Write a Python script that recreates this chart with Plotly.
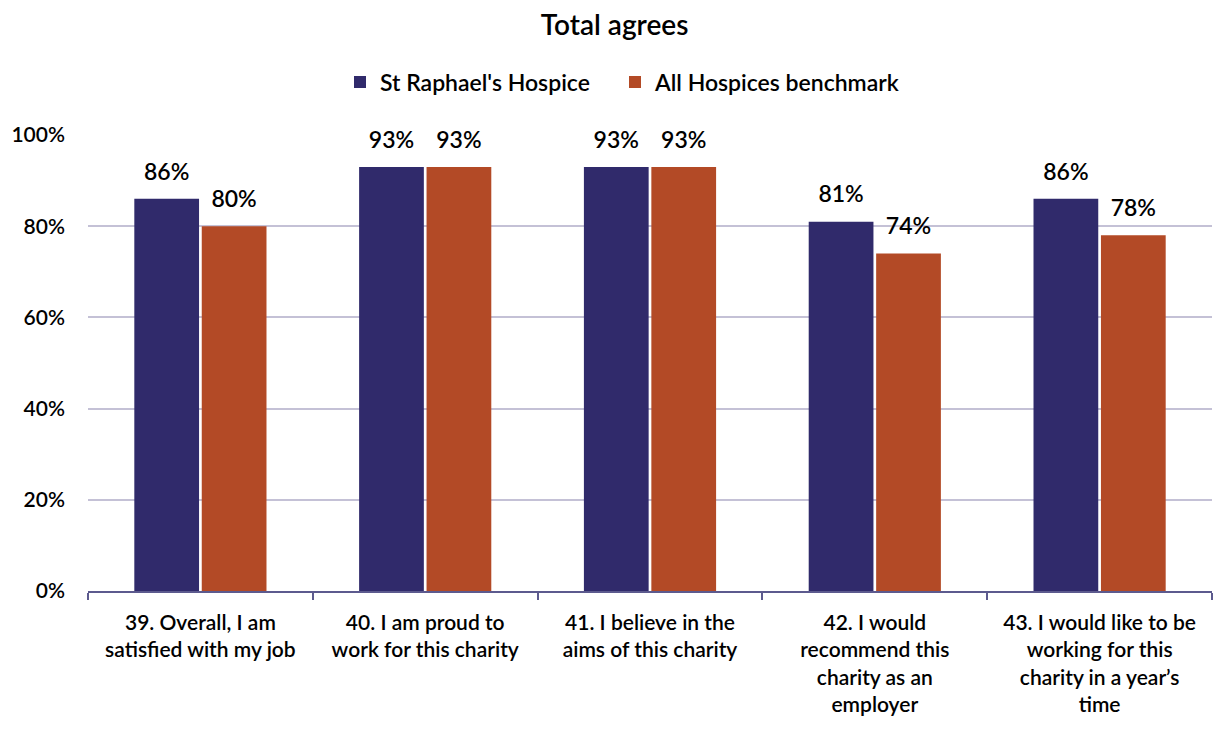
import plotly.graph_objects as go

categories = [
    "39. Overall, I am<br>satisfied with my job",
    "40. I am proud to<br>work for this charity",
    "41. I believe in the<br>aims of this charity",
    "42. I would<br>recommend this<br>charity as an<br>employer",
    "43. I would like to be<br>working for this<br>charity in a year’s<br>time",
]
st_raphael = [86, 93, 93, 81, 86]
benchmark = [80, 93, 93, 74, 78]
y_ticks = [0, 20, 40, 60, 80, 100]
y_tick_labels = ["0%", "20%", "40%", "60%", "80%", "100%"]

FONT = "Lato, 'Noto Sans', sans-serif"
NAVY = "#302a6b"
RUST = "#b34a26"

series = [
    ("St Raphael's Hospice", st_raphael, NAVY, "a", "legend"),
    ("All Hospices benchmark", benchmark, RUST, "b", "legend2"),
]

fig = go.Figure()
for name, vals, color, grp, leg in series:
    fig.add_trace(go.Bar(
        name=name,
        x=categories,
        y=vals,
        offsetgroup=grp,
        legend=leg,
        marker=dict(color=color, line=dict(width=0)),
        cliponaxis=False,
    ))

# value labels sit a little above each bar, in the same group slot
for name, vals, color, grp, leg in series:
    fig.add_trace(go.Scatter(
        x=categories,
        y=vals,
        offsetgroup=grp,
        mode="markers+text",
        marker=dict(size=20, opacity=0),
        text=[f"{v}%" for v in vals],
        textposition="top center",
        textfont=dict(family=FONT, size=23, color="#000000", weight=600),
        showlegend=False,
        hoverinfo="skip",
        cliponaxis=False,
    ))

legend_style = dict(
    orientation="h",
    xref="container", xanchor="left",
    y=1 - 82 / 731, yref="container", yanchor="middle",
    font=dict(family=FONT, size=23, color="#000000", weight=600),
    itemwidth=30,
)

fig.update_layout(
    width=1217,
    height=731,
    margin=dict(l=88, r=5, t=135, b=140),
    paper_bgcolor="white",
    plot_bgcolor="white",
    barmode="group",
    bargap=0.4,
    bargroupgap=0.04,
    scattermode="group",
    scattergap=0.4,
    font=dict(family=FONT, size=20, color="#000000", weight=600),
    title=dict(
        text="Total agrees",
        x=0.505, xref="container", xanchor="center",
        y=1 - 25 / 731, yref="container", yanchor="middle",
        font=dict(family=FONT, size=28, color="#000000", weight=600),
    ),
    legend=dict(x=340 / 1217, **legend_style),
    legend2=dict(x=615 / 1217, **legend_style),
    showlegend=True,
)

fig.update_yaxes(
    range=[0, 100],
    tickvals=y_ticks,
    ticktext=y_tick_labels,
    showgrid=True,
    gridcolor="#c4c1d6",
    gridwidth=1.5,
    zeroline=False,
    showline=False,
    ticks="",
    ticklabelstandoff=22,
    tickfont=dict(family=FONT, size=21, color="#000000", weight=600),
)

fig.update_xaxes(
    showline=True,
    linecolor="#5c5a8e",
    linewidth=1.5,
    ticks="outside",
    tickson="boundaries",
    ticklen=7,
    tickcolor="#5c5a8e",
    tickwidth=1.5,
    tickangle=0,
    ticklabelstandoff=12,
    tickfont=dict(family=FONT, size=21, color="#000000", weight=600),
)

fig.write_html("out.html")
